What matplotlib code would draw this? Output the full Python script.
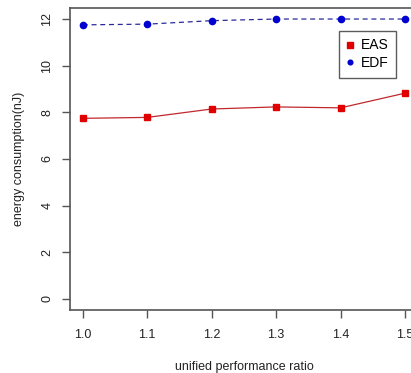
"""
Energy consumption vs unified performance ratio
"""

import matplotlib
matplotlib.use('Agg')
import matplotlib.pyplot as plt

# Adatok
ratio = [1.0, 1.1, 1.2, 1.3, 1.4, 1.5]
eas = [7.74, 7.78, 8.14, 8.23, 8.19, 8.82]
edf = [11.75, 11.78, 11.93, 12.0, 12.0, 12.0]
xticks = [1.0, 1.1, 1.2, 1.3, 1.4, 1.5]
yticks = [0, 2, 4, 6, 8, 10, 12]

plt.rcParams['font.family'] = ['Liberation Sans', 'DejaVu Sans']
font = 9

fig = plt.figure(figsize=(4.11, 3.73), dpi=100)
ax = fig.add_axes([0.170, 0.169, 0.847, 0.810])

ax.plot(ratio, eas, '-', color='#c0282d', lw=0.9, zorder=2)
ax.plot(ratio, eas, 's', color='#e00000', ms=5, ls='none', label='EAS', zorder=3)
ax.plot(ratio, edf, '--', color='#2a2a9a', lw=0.9, dashes=(4, 3), zorder=2)
ax.plot(ratio, edf, 'o', color='#0000d0', ms=4.5, ls='none', label='EDF', zorder=3)

ax.set_xlim(0.98, 1.52)
ax.set_ylim(-0.48, 12.48)
ax.set_xticks(xticks)
ax.set_xticklabels(['%.1f' % v for v in xticks])
ax.set_yticks(yticks)
ax.set_yticklabels([str(v) for v in yticks], rotation=90, va='center')

for s in ax.spines.values():
    s.set_color('#555555')
    s.set_linewidth(1.2)

ax.tick_params(axis='both', direction='out', length=6, width=1, color='#555555',
               labelsize=font, labelcolor='#222222')
ax.tick_params(axis='x', pad=8)
ax.tick_params(axis='y', pad=6)

ax.set_xlabel('unified performance ratio', fontsize=font, color='#222222', labelpad=14)
ax.set_ylabel('energy consumption(nJ)', fontsize=font, color='#222222', labelpad=12)

leg = ax.legend(loc='upper right', bbox_to_anchor=(0.937, 0.924), fontsize=font + 1,
                frameon=True, fancybox=False, handlelength=0.4, handletextpad=0.6,
                borderpad=0.55, labelspacing=0.25, markerscale=0.75, borderaxespad=0)
leg.get_frame().set_edgecolor('#333333')
leg.get_frame().set_linewidth(1)

plt.savefig('out.png', dpi=100)
